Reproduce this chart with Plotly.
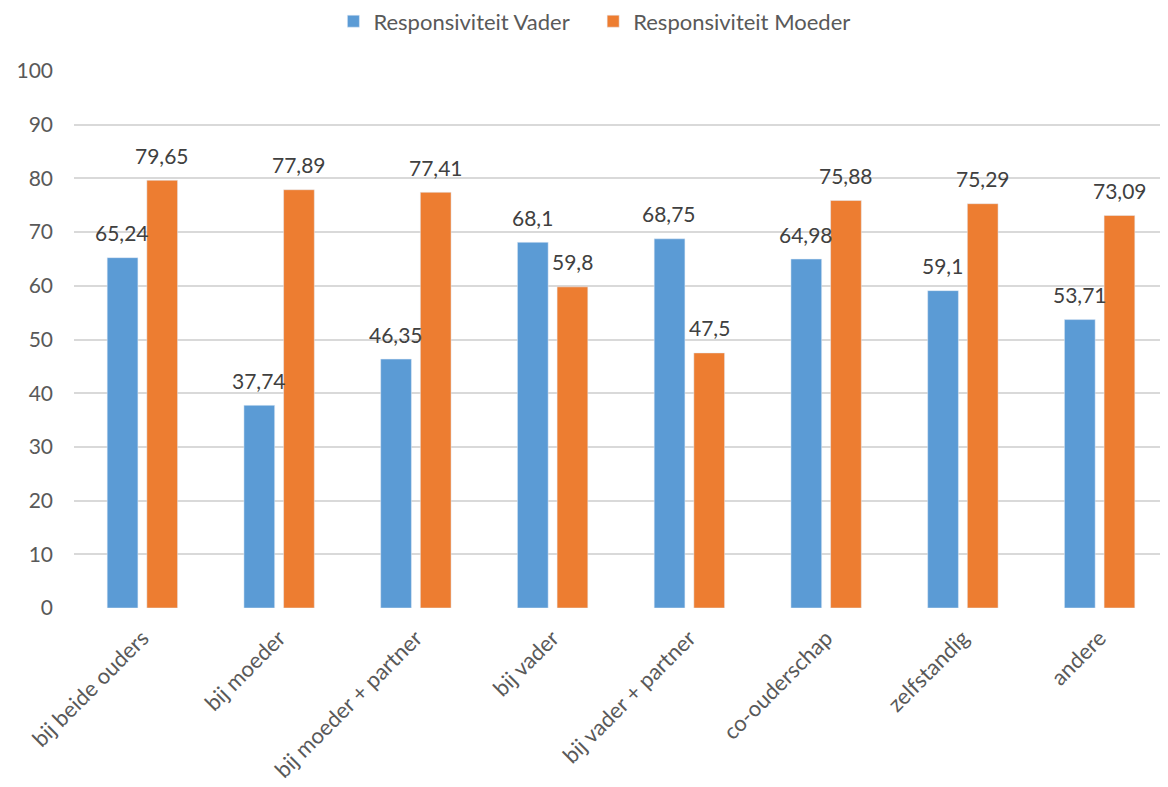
import plotly.graph_objects as go

categories = ["bij beide ouders", "bij moeder", "bij moeder + partner", "bij vader",
              "bij vader + partner", "co-ouderschap", "zelfstandig", "andere"]
vader = [65.24, 37.74, 46.35, 68.1, 68.75, 64.98, 59.1, 53.71]
moeder = [79.65, 77.89, 77.41, 59.8, 47.5, 75.88, 75.29, 73.09]
series_names = ["Responsiviteit Vader", "Responsiviteit Moeder"]
y_ticks = [0, 10, 20, 30, 40, 50, 60, 70, 80, 90, 100]

BLUE = "#5B9BD5"
ORANGE = "#ED7D31"
FONT = "Lato"

def fmt(v):
    s = f"{v:.2f}".rstrip("0").rstrip(".")
    return s.replace(".", ",")

fig = go.Figure()
fig.add_trace(go.Bar(x=categories, y=vader, name=series_names[0], marker_color=BLUE,
                     legend="legend", showlegend=True))
fig.add_trace(go.Bar(x=categories, y=moeder, name=series_names[1], marker_color=ORANGE,
                     legend="legend2", showlegend=True))

annotations = []
for vals, shift in ((vader, -20), (moeder, 20)):
    for c, v in zip(categories, vals):
        annotations.append(dict(x=c, y=v, xref="x", yref="y", text=fmt(v),
                                showarrow=False, xshift=shift, yshift=25,
                                yanchor="middle",
                                font=dict(family=FONT, size=21, color="#404040")))

legend_common = dict(orientation="h", xref="container", xanchor="left",
                     y=0.983, yref="container", yanchor="middle",
                     font=dict(size=22, color="#595959"), itemwidth=30,
                     bgcolor="rgba(0,0,0,0)", visible=True)

fig.update_layout(
    width=1168, height=787,
    margin=dict(l=59, r=8, t=63, b=187),
    paper_bgcolor="white", plot_bgcolor="white",
    showlegend=True,
    barmode="group", bargap=0.42, bargroupgap=0.225,
    font=dict(family=FONT, color="#595959"),
    legend=dict(x=0.2786, **legend_common),
    legend2=dict(x=0.5010, **legend_common),
    annotations=annotations,
    xaxis=dict(tickangle=-45, tickfont=dict(size=22, color="#595959"),
               showgrid=False, showline=False, ticks="", ticklabelstandoff=12),
    yaxis=dict(range=[0, 100], tickvals=y_ticks, showgrid=True, gridcolor="#D9D9D9",
               gridwidth=1.5, zeroline=False, showline=False, ticks="",
               tickfont=dict(size=21, color="#595959"), ticklabelstandoff=20),
)

fig.write_html("out.html")
